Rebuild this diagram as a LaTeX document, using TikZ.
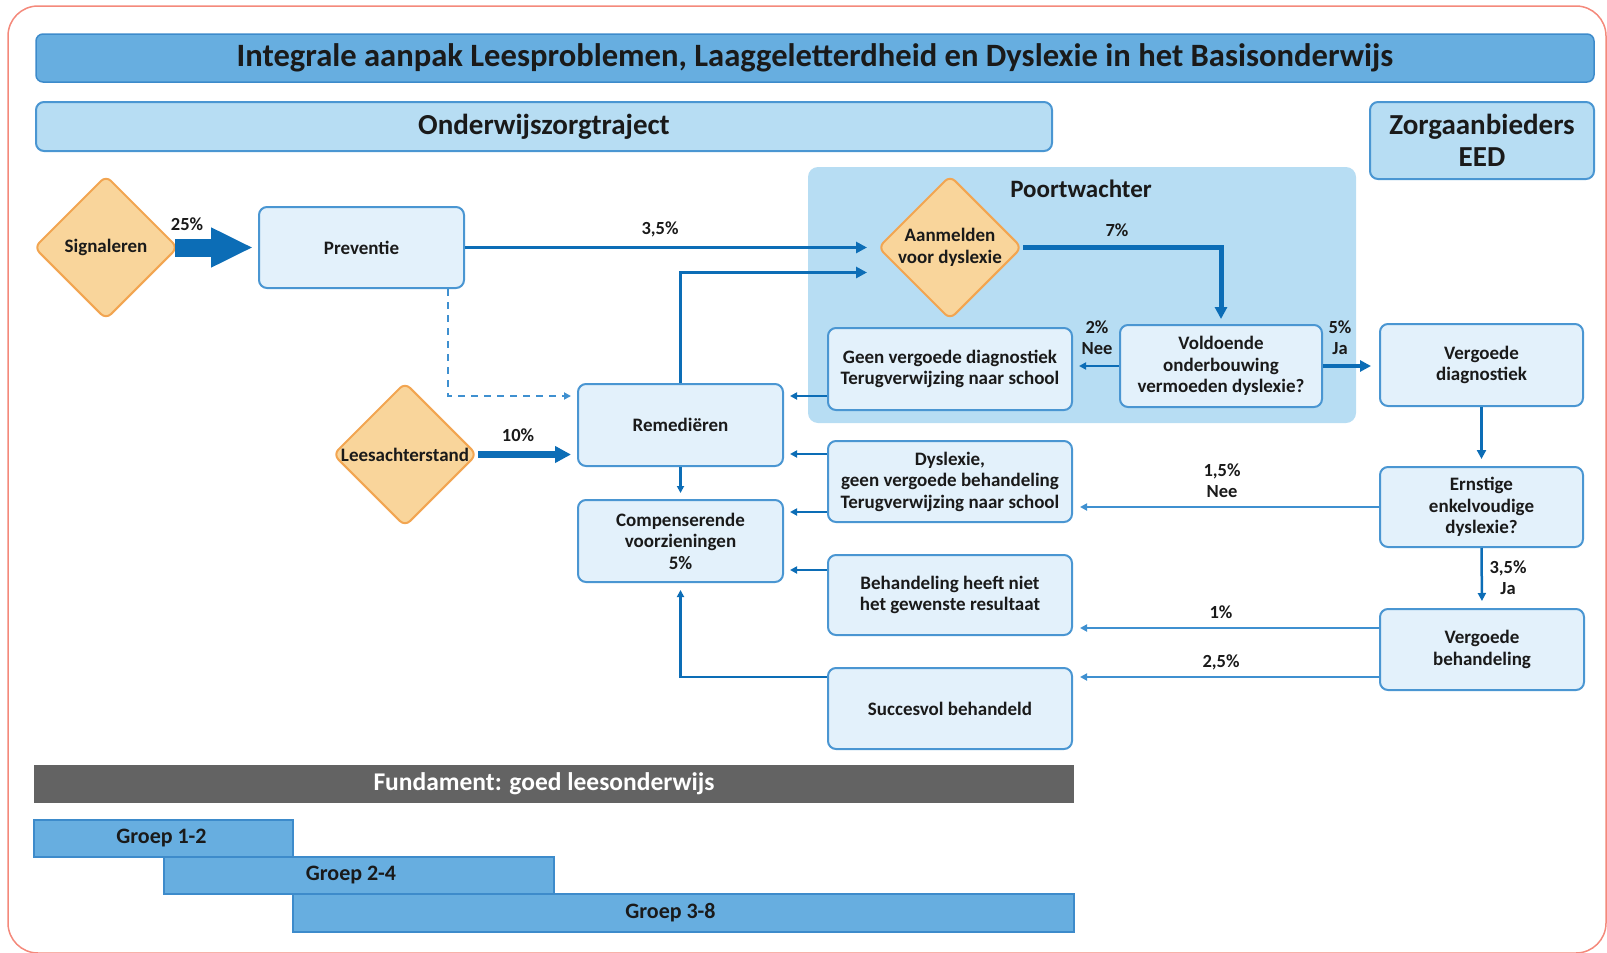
\documentclass[tikz,border=0pt]{standalone}
\usepackage{fontspec}
\setmainfont{Carlito}
\usetikzlibrary{shapes.geometric,arrows.meta,calc}
\definecolor{outerred}{HTML}{F4897B}
\definecolor{titlefill}{HTML}{67AEE0}
\definecolor{titledraw}{HTML}{3D8BCB}
\definecolor{lightfill}{HTML}{B7DDF3}
\definecolor{boxfill}{HTML}{E3F1FB}
\definecolor{boxdraw}{HTML}{4A96D2}
\definecolor{arrowblue}{HTML}{0C6DB6}
\definecolor{thinblue}{HTML}{3F90D0}
\definecolor{diafill}{HTML}{F9D59B}
\definecolor{diadraw}{HTML}{F2A551}
\definecolor{fundfill}{HTML}{636363}
\definecolor{txt}{HTML}{1A1A1A}
\newcommand\boxfont{\fontsize{19}{21.5}\selectfont\bfseries}
\newcommand\pctfont{\fontsize{18.5}{21}\selectfont\bfseries}
\begin{document}
\begin{tikzpicture}[x=1pt,y=-1pt,
  every node/.style={text=txt},
  box/.style={draw=boxdraw, fill=boxfill, line width=2pt, rounded corners=8pt, align=center, font=\boxfont, inner sep=0pt, minimum height=81},
  dia/.style={shape=diamond, draw=diadraw, fill=diafill, line width=2pt, rounded corners=7pt, minimum width=144, minimum height=144, inner sep=0pt},
  dlabel/.style={font=\boxfont, align=center, text=txt},
  bar/.style={draw=titledraw, fill=titlefill, line width=1.5pt, inner sep=0pt},
  lbar/.style={draw=boxdraw, fill=lightfill, line width=2pt, rounded corners=8pt, inner sep=0pt, align=center},
  pct/.style={font=\pctfont, inner sep=0pt, align=center},
  flow/.style={draw=arrowblue, line width=3.5pt, -{Triangle[length=11pt,width=11pt]}},
  thin/.style={draw=arrowblue, line width=2.2pt, -{Triangle[length=7pt,width=7pt]}, shorten >=6pt},
  longthin/.style={draw=thinblue, line width=2pt, -{Triangle[length=7pt,width=7pt]}, shorten >=7pt}
]
\useasboundingbox (0,0) rectangle (1607,953);
% outer frame
\draw[draw=outerred, line width=1.5pt, rounded corners=30pt] (8,6) rectangle (1606,953);
% header bars
\node[bar, rounded corners=7pt, minimum width=1558, minimum height=48, font=\fontsize{32.6}{36}\selectfont\bfseries] (title) at (815,58) {Integrale aanpak Leesproblemen, Laaggeletterdheid en Dyslexie in het Basisonderwijs};
\node[lbar, minimum width=1016, minimum height=49, font=\fontsize{29}{32}\selectfont\bfseries] (ozt) at (544,126.5) {Onderwijszorgtraject};
\node[lbar, minimum width=224, minimum height=77, font=\fontsize{29}{32}\selectfont\bfseries] (zorg) at (1482,140.5) {Zorgaanbieders\\EED};
% Poortwachter region
\node[fill=lightfill, rounded corners=10pt, minimum width=548, minimum height=256, inner sep=0pt] (poort) at (1082,295) {};
\node[font=\fontsize{25}{28}\selectfont\bfseries, inner sep=0pt] (poortlbl) at (1081,189) {Poortwachter};
% diamonds
\node[dia, label={[dlabel]center:Signaleren}] (sig) at (106,247.5) {};
\node[dia, label={[dlabel]center:Aanmelden\\voor dyslexie}] (aan) at (950,247.5) {};
\node[dia, label={[dlabel]center:Leesachterstand}] (lees) at (405,454.5) {};
% boxes
\node[box, minimum width=205] (prev) at (361.5,247.5) {Preventie};
\node[box, minimum width=205, minimum height=82] (rem) at (680.5,425) {Remedi\"eren};
\node[box, minimum width=205, minimum height=82] (comp) at (680.5,541) {Compenserende\\voorzieningen\\5\%};
\node[box, minimum width=244, minimum height=82] (geen) at (950,369) {Geen vergoede diagnostiek\\Terugverwijzing naar school};
\node[box, minimum width=244] (dys) at (950,481.5) {Dyslexie,\\geen vergoede behandeling\\Terugverwijzing naar school};
\node[box, minimum width=244, minimum height=80] (beh) at (950,595) {Behandeling heeft niet\\het gewenste resultaat};
\node[box, minimum width=244] (succ) at (950,708.5) {Succesvol behandeld};
\node[box, minimum width=202, minimum height=82] (vold) at (1221,366) {Voldoende\\onderbouwing\\vermoeden dyslexie?};
\node[box, minimum width=203, minimum height=82] (vdiag) at (1481.5,365) {Vergoede\\diagnostiek};
\node[box, minimum width=203, minimum height=80] (ernst) at (1481.5,507) {Ernstige\\enkelvoudige\\dyslexie?};
\node[box, minimum width=204] (vbeh) at (1482,649.5) {Vergoede\\behandeling};
% foundation
\node[fill=fundfill, minimum width=1040, minimum height=38, inner sep=0pt, text=white, font=\fontsize{25.5}{28}\selectfont\bfseries] (fund) at (554,784) {Fundament: goed leesonderwijs\kern20pt};
\node[bar, minimum width=259, minimum height=37, font=\fontsize{22}{26}\selectfont\bfseries] (g12) at (163.5,838.5) {Groep 1-2\kern4pt};
\node[bar, minimum width=390, minimum height=37, font=\fontsize{22}{26}\selectfont\bfseries] (g24) at (359,875.5) {Groep 2-4\kern16pt};
\node[bar, minimum width=781, minimum height=38, font=\fontsize{22}{26}\selectfont\bfseries] (g38) at (683.5,913) {Groep 3-8\kern26pt};
% fat arrows
\draw[draw=arrowblue, line width=18pt, -{Triangle[length=42pt,width=37pt]}, shorten >=5pt, shorten <=-4pt] (sig.east) -- (prev.west);
\draw[draw=arrowblue, line width=7pt, -{Triangle[length=16pt,width=16pt]}, shorten >=6pt] (lees.east) -- (lees.east -| rem.west);
% main flows
\coordinate (aanin1) at ($(aan.west)+(-10,0)$);
\coordinate (aanin2) at ($(aan.west)+(-10,25)$);
\draw[flow] (prev.east) -- (aanin1);
\draw[flow] (rem.north) |- (aanin2);
\draw[flow, line width=5pt, -{Triangle[length=12pt,width=12pt]}, shorten >=5pt] (aan.east) -| (vold.north);
\draw[thin, line width=2.5pt] (vold.west) -- (vold.west -| geen.east);
\draw[flow, line width=4pt, shorten >=8pt] (vold.east) -- (vold.east -| vdiag.west);
\draw[flow, line width=3pt, -{Triangle[length=9pt,width=9pt]}, shorten >=7pt] (vdiag.south) -- (ernst.north);
\draw[flow, line width=2.5pt, -{Triangle[length=8pt,width=8pt]}, shorten >=7pt] (ernst.south) -- (vbeh.north);
% dashed
\coordinate (prevdash) at ($(prev.south east)+(-17,0)$);
\coordinate (remdash) at ($(rem.west)+(0,-29)$);
\draw[draw=thinblue, line width=2pt, dash pattern=on 7pt off 6pt, -{Triangle[length=7pt,width=7pt]}, shorten >=6pt] (prevdash) |- (remdash);
% into Remedieren / Compenserende
\draw[thin] ($(geen.west)+(0,27)$) -- ($(rem.east)+(0,-29)$);
\draw[thin] ($(dys.west)+(0,-27.5)$) -- ($(rem.east)+(0,29)$);
\draw[thin] ($(dys.west)+(0,30.5)$) -- ($(comp.east)+(0,-29)$);
\draw[thin] ($(beh.west)+(0,-25)$) -- ($(comp.east)+(0,29)$);
\draw[thin] (rem.south) -- (comp.north);
\coordinate (succout) at ($(succ.west)+(0,-31.5)$);
\draw[thin, shorten >=7pt] (succout) -| (comp.south);
% returns from right column
\coordinate (vbout1) at ($(vbeh.west)+(0,-21.5)$);
\coordinate (vbout2) at ($(vbeh.west)+(0,27.5)$);
\draw[longthin] (ernst.west) -- (ernst.west -| dys.east);
\draw[longthin] (vbout1) -- (vbout1 -| beh.east);
\draw[longthin] (vbout2) -- (vbout2 -| succ.east);
% percentage labels
\node[pct] (p25) at (187,224) {25\%};
\node[pct] (p35a) at (660,229) {3,5\%};
\node[pct] (p7) at (1117,230) {7\%};
\node[pct] (p2) at (1097,338) {2\%\\Nee};
\node[pct] (p5) at (1340,338) {5\%\\Ja};
\node[pct] (p10) at (518,435) {10\%};
\node[pct] (p15) at (1222,481) {1,5\%\\Nee};
\node[pct] (p35b) at (1508,577.5) {3,5\%\\Ja};
\node[pct] (p1) at (1221,612) {1\%};
\node[pct] (p25b) at (1221,662) {2,5\%};
\end{tikzpicture}
\end{document}
